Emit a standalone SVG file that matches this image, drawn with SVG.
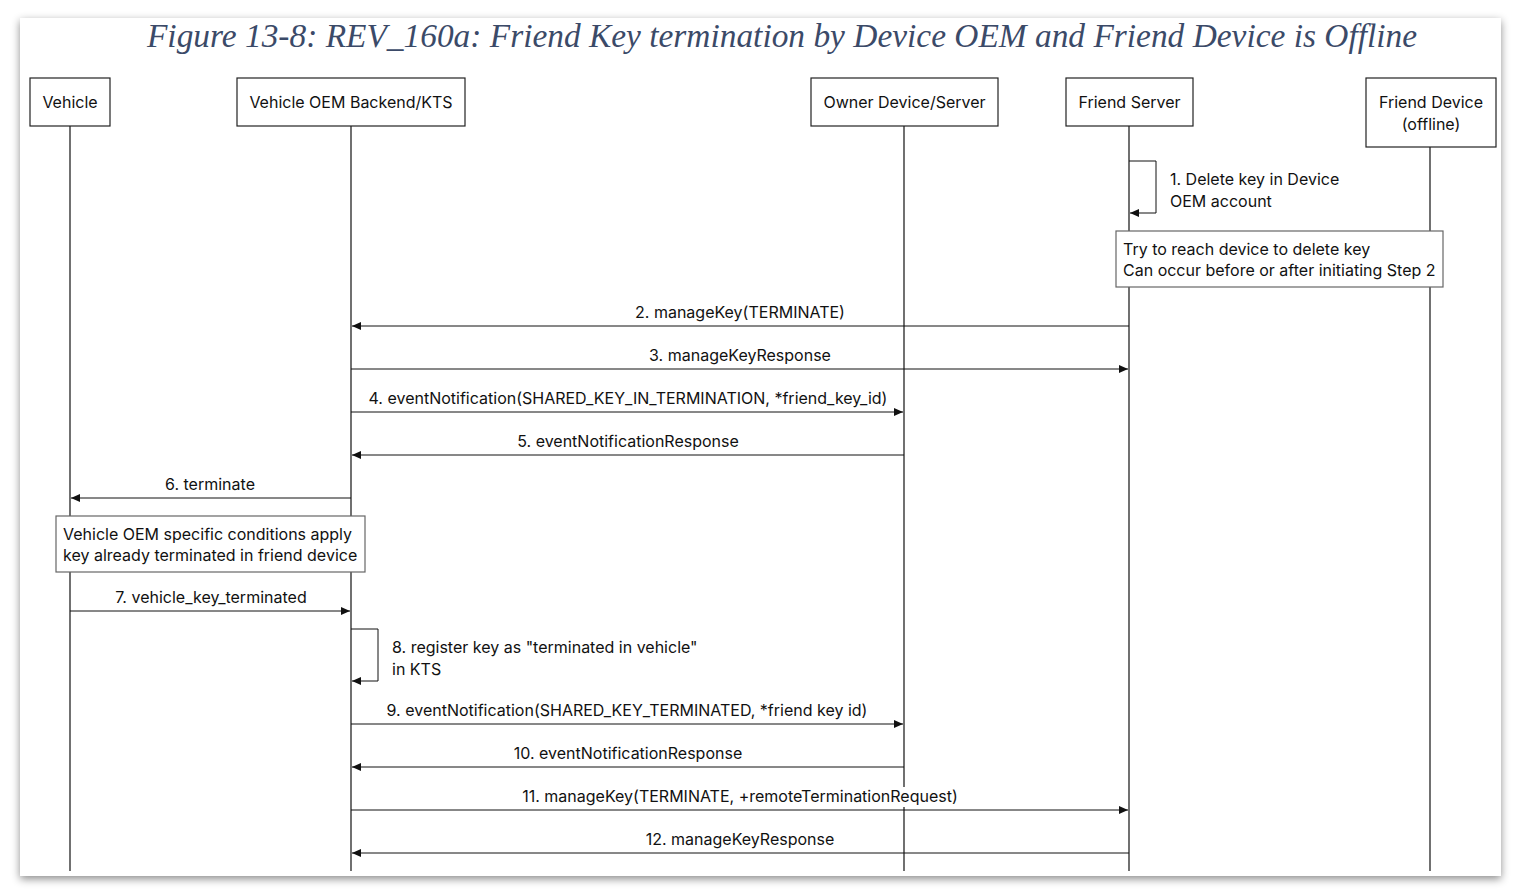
<svg xmlns="http://www.w3.org/2000/svg" width="1521" height="895" viewBox="0 0 1521 895">
<defs>
<filter id="sh" x="-5%" y="-5%" width="110%" height="112%">
<feDropShadow dx="0" dy="3" stdDeviation="4" flood-color="#000" flood-opacity="0.45"/>
</filter>
<marker id="ah" markerWidth="10" markerHeight="8" refX="9" refY="4" orient="auto" markerUnits="userSpaceOnUse">
<path d="M0,0 L9,4 L0,8 Z" fill="#111"/>
</marker>
</defs>
<style>
.t{font-family:Inter,"Noto Sans","Liberation Sans",sans-serif;font-size:16px;fill:#111}
.c{text-anchor:middle}
.box{fill:#fff;stroke:#222;stroke-width:1.2}
.note{fill:#fff;stroke:#666;stroke-width:1.2}
.life{stroke:#111;stroke-width:1.2;fill:none}
.msg{stroke:#111;stroke-width:1;fill:none;marker-end:url(#ah)}
.title{font-family:"Liberation Serif","DejaVu Serif",serif;font-style:italic;font-size:33.4px;fill:#3b4a68;text-anchor:middle}
</style>
<rect x="0" y="0" width="1521" height="895" fill="#fff"/>
<rect x="20" y="18" width="1481" height="858" fill="#fff" filter="url(#sh)"/>
<text class="title" x="782" y="47">Figure 13-8: REV_160a: Friend Key termination by Device OEM and Friend Device is Offline</text>

<g id="lifelines">
<line class="life" x1="70" y1="126" x2="70" y2="871"/>
<line class="life" x1="351" y1="126" x2="351" y2="871"/>
<line class="life" x1="904" y1="126" x2="904" y2="871"/>
<line class="life" x1="1129" y1="126" x2="1129" y2="871"/>
<line class="life" x1="1430" y1="147" x2="1430" y2="871"/>
</g>

<g id="vehicle"><rect class="box" x="30" y="78" width="80" height="48"/><text class="t c" x="70" y="108">Vehicle</text></g>
<g id="oem"><rect class="box" x="237" y="78" width="228" height="48"/><text class="t c" x="351" y="108">Vehicle OEM Backend/KTS</text></g>
<g id="owner"><rect class="box" x="811" y="78" width="187" height="48"/><text class="t c" x="904.5" y="108">Owner Device/Server</text></g>
<g id="friendserver"><rect class="box" x="1066" y="78" width="127" height="48"/><text class="t c" x="1129.5" y="108">Friend Server</text></g>
<g id="frienddevice"><rect class="box" x="1366" y="78" width="130" height="69"/><text class="t c" x="1431" y="108">Friend Device</text><text class="t c" x="1431" y="130">(offline)</text></g>

<g id="connectors">
<path class="msg" d="M1129,161 H1156 V213 H1130"/>
<text class="t" x="1170" y="185">1. Delete key in Device</text>
<text class="t" x="1170" y="207">OEM account</text>

<line class="msg" x1="1129" y1="326" x2="352" y2="326"/>
<text class="t c" x="740" y="318">2. manageKey(TERMINATE)</text>
<line class="msg" x1="351" y1="369" x2="1128" y2="369"/>
<text class="t c" x="740" y="361">3. manageKeyResponse</text>
<line class="msg" x1="351" y1="412" x2="903" y2="412"/>
<text class="t c" x="628" y="404">4. eventNotification(SHARED_KEY_IN_TERMINATION, *friend_key_id)</text>
<line class="msg" x1="904" y1="455" x2="352" y2="455"/>
<text class="t c" x="628" y="447">5. eventNotificationResponse</text>
<line class="msg" x1="351" y1="498" x2="71" y2="498"/>
<text class="t c" x="210" y="490">6. terminate</text>
<line class="msg" x1="70" y1="611" x2="350" y2="611"/>
<text class="t c" x="211" y="603">7. vehicle_key_terminated</text>
<path class="msg" d="M351,629 H378 V681 H352"/>
<text class="t" x="392" y="653">8. register key as "terminated in vehicle"</text>
<text class="t" x="392" y="675">in KTS</text>
<line class="msg" x1="351" y1="724" x2="903" y2="724"/>
<text class="t c" x="627" y="716">9. eventNotification(SHARED_KEY_TERMINATED, *friend key id)</text>
<line class="msg" x1="904" y1="767" x2="352" y2="767"/>
<text class="t c" x="628" y="759">10. eventNotificationResponse</text>
<line class="msg" x1="351" y1="810" x2="1128" y2="810"/>
<rect x="518" y="787" width="444" height="20" fill="#fff"/>
<text class="t c" x="740" y="802">11. manageKey(TERMINATE, +remoteTerminationRequest)</text>
<line class="msg" x1="1129" y1="853" x2="352" y2="853"/>
<text class="t c" x="740" y="845">12. manageKeyResponse</text>
</g>

<g id="note1"><rect class="note" x="1116" y="231" width="327" height="56"/><text class="t" x="1123" y="255">Try to reach device to delete key</text><text class="t" x="1123" y="276">Can occur before or after initiating Step 2</text></g>
<g id="note2"><rect class="note" x="56" y="516" width="309" height="56"/><text class="t" x="63" y="540">Vehicle OEM specific conditions apply</text><text class="t" x="63" y="561">key already terminated in friend device</text></g>
</svg>
